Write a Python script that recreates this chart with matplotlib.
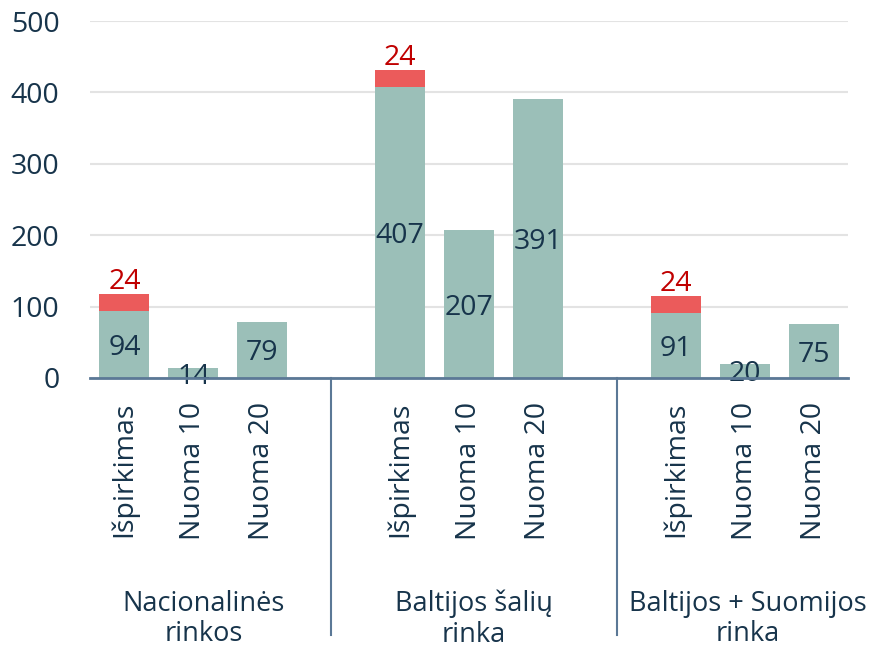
import numpy as np
import matplotlib.pyplot as plt

plt.rcParams['font.family'] = ['Open Sans', 'DejaVu Sans']

# Data
groups = ['Nacionalinės\nrinkos', 'Baltijos šalių\nrinka', 'Baltijos + Suomijos\nrinka']
products = ['Išpirkimas', 'Nuoma 10', 'Nuoma 20']
base_values = [[94, 14, 79], [407, 207, 391], [91, 20, 75]]
extra_values = [[24, 0, 0], [24, 0, 0], [24, 0, 0]]

green = '#9bbfb8'
red = '#eb5b5b'
text_col = '#17344b'
red_text = '#c00000'
axis_col = '#5b7896'

fig = plt.figure(figsize=(8.73, 6.5), dpi=100)
ax = fig.add_axes([90 / 873, 1 - 378 / 650, 758 / 873, 357 / 650])

# one blank slot between groups
xpos = []
labels = []
for g in range(len(groups)):
    for p in range(len(products)):
        xpos.append(g * (len(products) + 1) + p)
        labels.append(products[p])
xpos = np.array(xpos)
base = np.array(base_values).ravel()
extra = np.array(extra_values).ravel()

width = 0.725
ax.bar(xpos, base, width=width, color=green, zorder=3)
ax.bar(xpos[extra > 0], extra[extra > 0], bottom=base[extra > 0], width=width,
       color=red, zorder=3)

fs = 20.5
for x, b in zip(xpos, base):
    ax.text(x, b / 2, str(b), ha='center', va='center_baseline', fontsize=fs,
            color=text_col, zorder=4)
for x, b, e in zip(xpos, base, extra):
    if e > 0:
        ax.text(x, b + e - 3, str(e), ha='center', va='bottom', fontsize=fs,
                color=red_text, zorder=4)

ax.set_xlim(-0.5, 10.5)
ax.set_ylim(0, 500)
ax.set_yticks(np.arange(0, 501, 100))
ax.set_xticks(xpos)
ax.set_xticklabels(labels, rotation=90, fontsize=fs, color=text_col)
ax.tick_params(axis='x', length=0, pad=17)
ax.tick_params(axis='y', length=0, pad=22, labelsize=fs, labelcolor=text_col)
ax.grid(axis='y', color='#e3e3e3', linewidth=1.5, zorder=0)
for s in ['top', 'right', 'left']:
    ax.spines[s].set_visible(False)
ax.spines['bottom'].set_color(axis_col)
ax.spines['bottom'].set_linewidth(2)
ax.spines['bottom'].set_zorder(5)

# group separators and group labels below the axis
trans = ax.get_xaxis_transform()
for sx in [3.0, 7.15]:
    ax.plot([sx, sx], [0, -257 / 357], transform=trans, color=axis_col,
            linewidth=1.5, clip_on=False)
for gx, name in zip([1.15, 5.07, 9.05], groups):
    ax.text(gx, -241 / 357, name, transform=trans, ha='center', va='center',
            fontsize=19.5, color=text_col, linespacing=1.12)

fig.savefig('out.png', dpi=100)
